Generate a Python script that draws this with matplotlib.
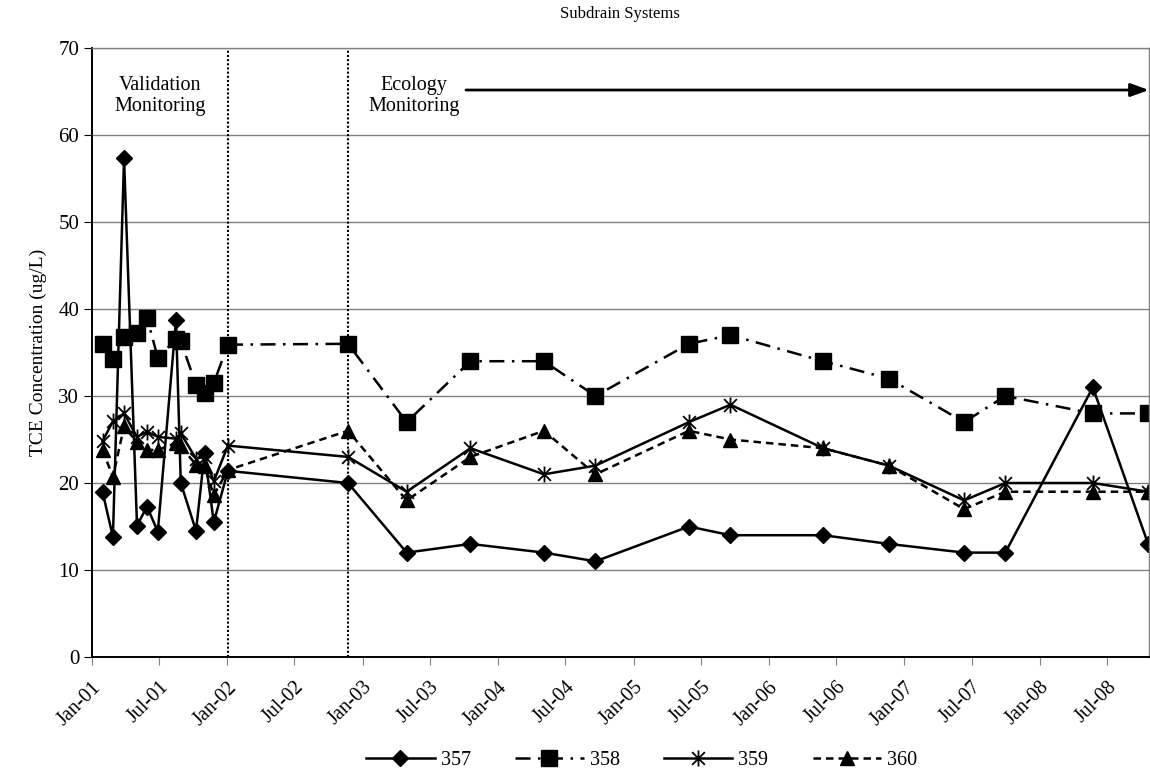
import numpy as np
import matplotlib
matplotlib.use("Agg")
import matplotlib.pyplot as plt
import matplotlib.dates as mdates
from matplotlib.path import Path

plt.rcParams['font.family'] = ['Liberation Serif', 'DejaVu Serif']

# sampling dates shared by all four subdrains
dates = np.array([
    "2001-01-30", "2001-02-27", "2001-03-29", "2001-05-03", "2001-05-30",
    "2001-06-28", "2001-08-16", "2001-08-29", "2001-10-09", "2001-11-01",
    "2001-11-26", "2002-01-03", "2002-11-23", "2003-04-30", "2003-10-19",
    "2004-05-04", "2004-09-20", "2005-05-30", "2005-09-19", "2006-05-27",
    "2006-11-20", "2007-06-11", "2007-09-30", "2008-05-23", "2008-10-19",
], dtype="datetime64[D]")

# TCE concentrations (ug/L)
s357 = [19.0, 13.8, 57.3, 15.1, 17.3, 14.4, 38.7, 20.0, 14.5, 23.4, 15.5, 21.4,
        20.0, 12, 13, 12, 11, 15, 14, 14, 13, 12, 12, 31, 13]
s358 = [36.0, 34.3, 36.8, 37.2, 39.0, 34.4, 36.5, 36.3, 31.3, 30.3, 31.5, 35.9,
        36.0, 27, 34, 34, 30, 36, 37, 34, 32, 27, 30, 28, 28]
s359 = [24.8, 27.1, 28.0, 25.3, 25.9, 25.3, 25.1, 25.7, 22.8, 23.0, 20.2, 24.3,
        23, 19, 24, 21, 22, 27, 29, 24, 22, 18, 20, 20, 19]
s360 = [23.8, 20.7, 26.5, 24.7, 23.8, 23.8, 24.6, 24.2, 22.1, 21.9, 18.6, 21.5,
        26, 18, 23, 26, 21, 26, 25, 24, 22, 17, 19, 19, 19]

labels = ["357", "358", "359", "360"]
x_start = np.datetime64("2001-01-01")
x_end = np.datetime64("2008-10-21")

# Excel-style asterisk: an X with a vertical bar
asterisk = Path([(-1, -1), (1, 1), (-1, 1), (1, -1), (0, -1.25), (0, 1.25)],
                [Path.MOVETO, Path.LINETO] * 3)

fig = plt.figure(figsize=(11.5, 7.78), dpi=100)
ax = fig.add_axes([0.0798, 0.1555, 0.9192, 0.7828])

lw = 1.8
ax.plot(dates, s357, color='black', lw=lw, marker='D', ms=8.5, label=labels[0])
ax.plot(dates, s358, color='black', lw=lw, ls=(0, (6, 3, 1, 3)), marker='s', ms=11, label=labels[1])
ax.plot(dates, s359, color='black', lw=lw, marker=asterisk, ms=11.5, mew=1.3,
        mfc='none', label=labels[2])
ax.plot(dates, s360, color='black', lw=lw, ls=(0, (3, 2)), marker='^', ms=10.5, label=labels[3])

# phase boundaries
for d in (dates[11], dates[12]):
    ax.axvline(d, color='black', lw=1.5, ls=(0, (1, 1)), zorder=1)

ax.set_xlim(x_start, x_end)
ax.set_ylim(0, 70)
ax.set_yticks(range(0, 71, 10))
ax.yaxis.grid(True, color='#808080', lw=1.0)
ax.set_axisbelow(True)

ax.xaxis.set_major_locator(mdates.MonthLocator(bymonth=(1, 7)))
ax.xaxis.set_major_formatter(mdates.DateFormatter('%b-%y'))
plt.setp(ax.get_xticklabels(), rotation=45, ha='right', rotation_mode='anchor')
ax.tick_params(axis='x', labelsize=14.5, length=6, color='#808080', pad=9)
ax.tick_params(axis='y', labelsize=15, length=6, color='black', pad=3)

for side in ('top', 'right'):
    ax.spines[side].set_color('#808080')
    ax.spines[side].set_linewidth(1.0)
for side in ('left', 'bottom'):
    ax.spines[side].set_color('black')
    ax.spines[side].set_linewidth(1.4)

ax.set_ylabel('TCE Concentration (ug/L)', fontsize=14, labelpad=8)
fig.text(0.539, 0.982, 'Subdrain Systems', ha='center', va='center', fontsize=12)

ax.text(0.0645, 0.921, 'Validation\nMonitoring', transform=ax.transAxes,
        ha='center', va='center', fontsize=14.5, linespacing=1.1)
ax.text(0.305, 0.921, 'Ecology\nMonitoring', transform=ax.transAxes,
        ha='center', va='center', fontsize=14.5, linespacing=1.1)
ax.annotate('', xy=(1.0, 0.931), xytext=(0.354, 0.931), xycoords='axes fraction',
            arrowprops=dict(arrowstyle='-|>,head_length=1.1,head_width=0.4',
                            color='black', lw=2, shrinkA=0, shrinkB=0))

fig.legend(loc='center', bbox_to_anchor=(0.558, 0.022), ncol=4, frameon=False,
           fontsize=14.5, handlelength=3.4, handletextpad=0.3, columnspacing=2.2)

fig.savefig('out.png', dpi=100)
